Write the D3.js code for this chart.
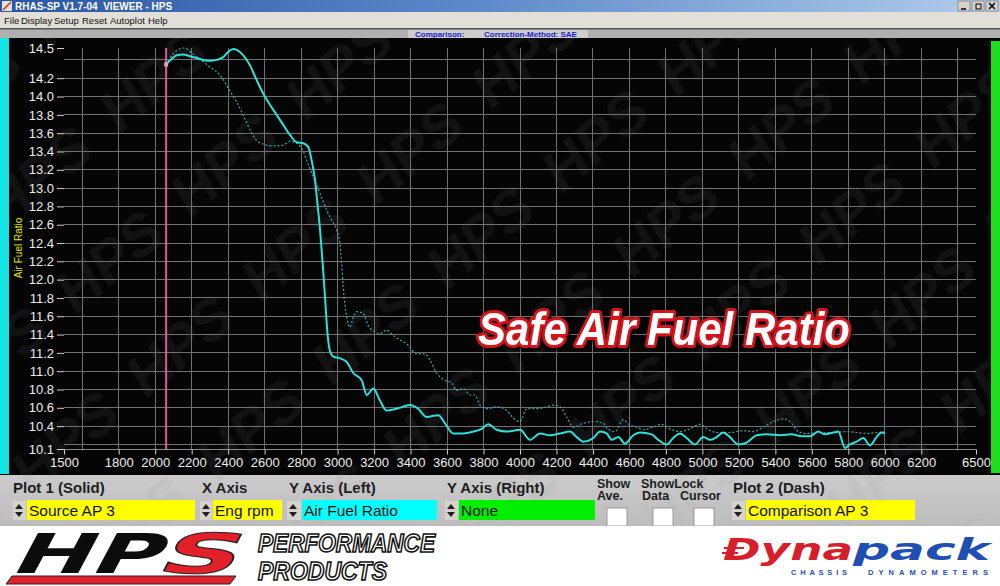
<!DOCTYPE html>
<html><head><meta charset="utf-8">
<script src="https://cdn.jsdelivr.net/npm/d3@7"></script>
<style>
body{margin:0;background:#fff;overflow:hidden}
svg{display:block;font-family:Arial,"Liberation Sans",sans-serif}
</style></head><body>
<svg id="c" width="1000" height="586"></svg>
<script>
// ---------------- data ----------------
const solidRpm = [2059,2090,2118,2154,2191,2228,2264,2300,2337,2373,2401,2428,2447,2483,2520,2556,2593,2629,2666,2702,2739,2776,2812,2839,2858,2876,2889,2904,2918,2931,2943,2958,2976,3013,3050,3086,3132,3160,3196,3232,3269,3324,3397,3442,3488,3552,3589,3634,3689,3744,3790,3826,3872,3927,4000,4055,4110,4164,4219,4274,4311,4347,4402,4439,4475,4503,4539,4576,4621,4658,4722,4758,4804,4840,4877,4914,4959,5005,5042,5078,5115,5151,5197,5243,5298,5352,5425,5489,5544,5590,5635,5672,5718,5745,5782,5809,5846,5882,5919,5955,5982,6001];
const solidAfr = [14.35,14.41,14.45,14.46,14.44,14.42,14.40,14.39,14.40,14.43,14.49,14.52,14.51,14.45,14.34,14.18,14.03,13.91,13.80,13.69,13.58,13.50,13.49,13.45,13.30,13.09,12.84,12.54,12.18,11.81,11.45,11.22,11.16,11.14,11.10,10.98,10.90,10.74,10.81,10.68,10.57,10.59,10.63,10.59,10.50,10.52,10.43,10.32,10.32,10.34,10.37,10.42,10.36,10.34,10.36,10.25,10.32,10.30,10.32,10.34,10.28,10.23,10.27,10.34,10.32,10.25,10.28,10.21,10.30,10.33,10.31,10.25,10.20,10.27,10.32,10.27,10.20,10.28,10.25,10.28,10.33,10.28,10.20,10.22,10.30,10.31,10.30,10.31,10.29,10.29,10.34,10.31,10.33,10.34,10.16,10.20,10.23,10.27,10.19,10.28,10.33,10.32];
const dashRpm = [2059,2099,2136,2163,2191,2228,2264,2300,2337,2365,2392,2419,2447,2474,2502,2529,2556,2593,2648,2702,2739,2776,2812,2835,2867,2904,2940,2968,2995,3013,3022,3031,3050,3068,3086,3105,3141,3168,3205,3232,3269,3305,3342,3379,3434,3479,3507,3543,3589,3626,3653,3689,3726,3753,3781,3817,3872,3927,3973,4000,4037,4091,4146,4182,4219,4256,4292,4347,4402,4457,4480,4521,4566,4603,4640,4676,4731,4777,4822,4877,4932,4987,5032,5078,5151,5224,5279,5334,5389,5453,5489,5526,5571,5645,5718,5791,5846,5900,5955,6001];
const dashAfr = [14.35,14.47,14.52,14.53,14.49,14.43,14.38,14.32,14.27,14.21,14.12,14.03,13.94,13.83,13.71,13.60,13.52,13.48,13.46,13.47,13.51,13.49,13.40,13.28,13.12,12.94,12.76,12.65,12.54,12.39,12.18,11.92,11.59,11.48,11.59,11.65,11.63,11.50,11.43,11.41,11.45,11.39,11.34,11.30,11.19,11.19,11.12,10.98,10.90,10.87,10.79,10.81,10.74,10.74,10.63,10.59,10.61,10.57,10.47,10.45,10.59,10.59,10.61,10.63,10.61,10.50,10.39,10.43,10.45,10.43,10.37,10.34,10.47,10.41,10.39,10.36,10.39,10.42,10.37,10.34,10.37,10.42,10.36,10.33,10.33,10.35,10.34,10.39,10.45,10.48,10.43,10.34,10.32,10.33,10.33,10.34,10.33,10.32,10.33,10.34];
const cursorRpm = 2060;
const xTickValues = [1500,1800,2000,2200,2400,2600,2800,3000,3200,3400,3600,3800,4000,4200,4400,4600,4800,5000,5200,5400,5600,5800,6000,6200,6500];
const xGridValues = [1600,1800,2000,2200,2400,2600,2800,3000,3200,3400,3600,3800,4000,4200,4400,4600,4800,5000,5200,5400,5600,5800,6000,6200,6400];
const yTickValues = [10.15,10.4,10.6,10.8,11.0,11.2,11.4,11.6,11.8,12.0,12.2,12.4,12.6,12.8,13.0,13.2,13.4,13.6,13.8,14.0,14.2,14.53];
const yTickLabels = ["10.1","10.4","10.6","10.8","11.0","11.2","11.4","11.6","11.8","12.0","12.2","12.4","12.6","12.8","13.0","13.2","13.4","13.6","13.8","14.0","14.2","14.5"];
const yGridValues = [10.2,10.4,10.6,10.8,11.0,11.2,11.4,11.6,11.8,12.0,12.2,12.4,12.6,12.8,13.0,13.2,13.4,13.6,13.8,14.0,14.2,14.4];
const menuItems = ["File","Display","Setup","Reset","Autoplot","Help"];
const yAxisTitle = "Air Fuel Ratio";
const annotation = "Safe Air Fuel Ratio";

// ---------------- drawing ----------------
const svg = d3.select("#c");
const defs = svg.append("defs");
const tg = defs.append("linearGradient").attr("id","tg").attr("x1",0).attr("x2",1);
tg.append("stop").attr("offset",0).attr("stop-color","#2a55a4");
tg.append("stop").attr("offset",0.45).attr("stop-color","#5a86c8");
tg.append("stop").attr("offset",1).attr("stop-color","#b2cdeb");
const pg = defs.append("linearGradient").attr("id","pg").attr("x1",0).attr("x2",0).attr("y1",0).attr("y2",1);
pg.append("stop").attr("offset",0).attr("stop-color","#cbcbcb");
pg.append("stop").attr("offset",1).attr("stop-color","#bdbdbd");
const wm = defs.append("pattern").attr("id","wm").attr("patternUnits","userSpaceOnUse")
  .attr("width",150).attr("height",110).attr("patternTransform","rotate(-40)");
wm.append("text").attr("x",6).attr("y",70).text("HPS").attr("font-size",58)
  .attr("font-weight","bold").attr("font-style","italic").attr("fill","#121212");
const wm2 = defs.append("pattern").attr("id","wm2").attr("patternUnits","userSpaceOnUse")
  .attr("width",150).attr("height",110).attr("patternTransform","rotate(-40)");
wm2.append("text").attr("x",6).attr("y",70).text("HPS").attr("font-size",58)
  .attr("font-weight","bold").attr("font-style","italic").attr("fill","#b8b8b8");
const sh = defs.append("filter").attr("id","sh").attr("x","-10%").attr("y","-30%").attr("width","120%").attr("height","160%");
sh.append("feDropShadow").attr("dx",2).attr("dy",2).attr("stdDeviation",1.5).attr("flood-color","#000").attr("flood-opacity",0.9);

// title bar
svg.append("rect").attr("x",0).attr("y",0).attr("width",1000).attr("height",12).attr("fill","url(#tg)");
svg.append("rect").attr("x",2).attr("y",1).attr("width",10).attr("height",10).attr("fill","#e8e0d0");
svg.append("path").attr("d","M3,10 L11,2").attr("stroke","#c03020").attr("stroke-width",1.5);
svg.append("text").attr("x",15).attr("y",10).attr("font-size",10).attr("font-weight","bold")
  .attr("fill","#fff").text("RHAS-SP V1.7-04  VIEWER - HPS").attr("xml:space","preserve");
[958,972,986].forEach(bx=>{
  svg.append("rect").attr("x",bx).attr("y",1).attr("width",12).attr("height",10)
    .attr("fill","#d8d4cc").attr("stroke","#666").attr("stroke-width",0.6);
});
svg.append("path").attr("d","M961,9 h5").attr("stroke","#000").attr("stroke-width",1.5);
svg.append("rect").attr("x",976).attr("y",4).attr("width",5).attr("height",5).attr("fill","none").attr("stroke","#000").attr("stroke-width",1);
svg.append("path").attr("d","M989,3 l6,6 M995,3 l-6,6").attr("stroke","#000").attr("stroke-width",1.6);

// menu bar
svg.append("rect").attr("x",0).attr("y",12).attr("width",1000).attr("height",16).attr("fill","#e2dfd8");
const menuX = [4,21,54,82,110,148];
svg.selectAll("text.menu").data(menuItems).join("text").attr("class","menu")
  .attr("x",(d,i)=>menuX[i]).attr("y",24).attr("font-size",9.5).attr("fill","#111").text(d=>d);

// status row
svg.append("rect").attr("x",0).attr("y",28).attr("width",1000).attr("height",10).attr("fill","#b0b0b0");
svg.append("rect").attr("x",0).attr("y",28).attr("width",1000).attr("height",1.5).attr("fill","#555");
svg.append("rect").attr("x",408).attr("y",30).attr("width",180).attr("height",8).attr("fill","#cdcdcd");
svg.append("text").attr("x",415).attr("y",37).attr("font-size",8).attr("font-weight","bold").attr("fill","#1a22d0").text("Comparison:");
svg.append("text").attr("x",484).attr("y",37).attr("font-size",8).attr("font-weight","bold").attr("fill","#1a22d0").text("Correction-Method: SAE");

// plot background
svg.append("rect").attr("x",0).attr("y",38).attr("width",1000).attr("height",437).attr("fill","#050505");
svg.append("rect").attr("x",9).attr("y",38).attr("width",982).attr("height",437).attr("fill","url(#wm)");
svg.append("rect").attr("x",0).attr("y",38).attr("width",9).attr("height",436).attr("fill","#16e4e4");
svg.append("rect").attr("x",991).attr("y",41).attr("width",9).attr("height",432).attr("fill","#1ce01c");

const x = d3.scaleLinear().domain([1500,6500]).range([64,976]);
const y = d3.scaleLinear().domain([10.15,14.53]).range([449,48]);

// grid
const grid = svg.append("g").attr("stroke","#707070").attr("stroke-width",1).attr("shape-rendering","crispEdges");
grid.selectAll("line.h").data(yGridValues).join("line").attr("class","h")
  .attr("x1",x(1500)).attr("x2",x(6500)).attr("y1",d=>y(d)).attr("y2",d=>y(d));
grid.selectAll("line.v").data(xGridValues).join("line").attr("class","v")
  .attr("x1",d=>x(d)).attr("x2",d=>x(d)).attr("y1",y(14.53)).attr("y2",y(10.15));

// axes
const ya = svg.append("g").attr("transform","translate(64,0)")
  .call(d3.axisLeft(y).tickValues(yTickValues).tickFormat((d,i)=>yTickLabels[i]).tickSize(7).tickPadding(3));
ya.select(".domain").remove();
ya.selectAll("line").attr("stroke","#cfcfcf");
ya.selectAll("text").attr("fill","#ececec").attr("font-size",13).attr("font-family","Arial, 'Liberation Sans', sans-serif");
const xa = svg.append("g").attr("transform","translate(0,449.5)")
  .call(d3.axisBottom(x).tickValues(xTickValues).tickFormat(d3.format("d")).tickSize(5).tickPadding(3));
xa.select(".domain").attr("stroke","#8a8a8a").attr("d",`M${x(1500)},0H${x(6500)}`);
xa.selectAll("line").attr("stroke","#cfcfcf");
xa.selectAll("text").attr("fill","#ececec").attr("font-size",13).attr("font-family","Arial, 'Liberation Sans', sans-serif");

svg.append("text").attr("transform","translate(22,248) rotate(-90)").attr("text-anchor","middle")
  .attr("font-size",10).attr("fill","#e6e600").text(yAxisTitle);

// cursor
svg.append("line").attr("x1",x(cursorRpm)).attr("x2",x(cursorRpm)).attr("y1",y(14.53)).attr("y2",y(10.15))
  .attr("stroke","#e0589c").attr("stroke-width",2);

// lines
const dashData = dashRpm.map((r,i)=>[r,dashAfr[i]]);
const solidData = solidRpm.map((r,i)=>[r,solidAfr[i]]);
const line = d3.line().x(d=>x(d[0])).y(d=>y(d[1])).curve(d3.curveMonotoneX);
svg.append("path").attr("d",line(dashData)).attr("fill","none").attr("stroke","#3aa9a6")
  .attr("stroke-width",1.2).attr("stroke-dasharray","2,2");
svg.append("path").attr("d",line(solidData)).attr("fill","none").attr("stroke","#2ee0da")
  .attr("stroke-width",2).attr("stroke-linejoin","round");
svg.append("rect").attr("x",x(cursorRpm)-2).attr("y",y(solidAfr[0])-2).attr("width",4).attr("height",4).attr("fill","#e8a0b8");

// annotation
svg.append("text").attr("x",478).attr("y",345).attr("textLength",372).attr("lengthAdjust","spacingAndGlyphs")
  .attr("font-family","'Liberation Sans', Arial, sans-serif").attr("font-weight","bold").attr("font-style","italic").attr("font-size",46)
  .attr("fill","#fff").attr("stroke","#d0121c").attr("stroke-width",6).attr("stroke-linejoin","round")
  .attr("paint-order","stroke").attr("filter","url(#sh)").text(annotation);

// control panel
svg.append("rect").attr("x",0).attr("y",475).attr("width",1000).attr("height",51).attr("fill","url(#pg)");
svg.append("rect").attr("x",0).attr("y",475).attr("width",1000).attr("height",51).attr("fill","url(#wm2)").attr("opacity",0.35);
const lbl = [["Plot 1 (Solid)",13],["X Axis",202],["Y Axis (Left)",289],["Y Axis (Right)",447],["Plot 2 (Dash)",733]];
svg.selectAll("text.lbl").data(lbl).join("text").attr("class","lbl").attr("x",d=>d[1]).attr("y",493)
  .attr("font-size",15).attr("font-weight","bold").attr("fill","#1e1e1e").text(d=>d[0]);
const small = [["Show",597,488],["Ave.",597,500],["ShowLock",641,488],["Data",642,500],["Cursor",680,500]];
svg.selectAll("text.sm").data(small).join("text").attr("class","sm").attr("x",d=>d[1]).attr("y",d=>d[2])
  .attr("font-size",12.5).attr("font-weight","bold").attr("fill","#1e1e1e").text(d=>d[0]);
const boxes = [["Source AP 3",13,27,168,"#ffff00"],["Eng rpm",200,213,69,"#ffff00"],["Air Fuel Ratio",287,302,135,"#00ffff"],["None",445,459,136,"#00ee00"],["Comparison AP 3",732,746,169,"#ffff00"]];
boxes.forEach((b,i)=>{
  const g = svg.append("g");
  g.append("rect").attr("x",b[1]).attr("y",501).attr("width",b[2]-b[1]-1).attr("height",19).attr("fill","#d6d3cc");
  g.append("path").attr("d",`M${b[1]+2},509 l4,-5 l4,5 z M${b[1]+2},512 l4,5 l4,-5 z`).attr("fill","#222");
  defs.append("clipPath").attr("id","cb"+i).append("rect").attr("x",b[2]).attr("y",500).attr("width",b[3]).attr("height",20);
  g.append("rect").attr("x",b[2]).attr("y",500).attr("width",b[3]).attr("height",20).attr("fill",b[4]);
  g.append("text").attr("x",b[2]+2).attr("y",516).attr("font-size",15.5).attr("fill","#111")
    .attr("clip-path",`url(#cb${i})`).text(b[0]);
});
[607,653,694].forEach(cx=>{
  svg.append("rect").attr("x",cx).attr("y",508).attr("width",20).attr("height",18).attr("fill","#fff").attr("stroke","#888").attr("stroke-width",0.8);
});

// bottom logos
svg.append("rect").attr("x",0).attr("y",526).attr("width",1000).attr("height",60).attr("fill","#fff");
const hps = svg.append("g").attr("font-family","'DejaVu Sans', sans-serif").attr("font-weight","bold");
hps.append("text").attr("transform","translate(8,573) skewX(-28)").attr("font-size",55)
  .attr("textLength",148).attr("lengthAdjust","spacingAndGlyphs").attr("fill","#0c0c0c").text("HP");
hps.append("text").attr("transform","translate(154,573) skewX(-28)").attr("font-size",55)
  .attr("textLength",80).attr("lengthAdjust","spacingAndGlyphs").attr("fill","#e3202a").attr("stroke","#222").attr("stroke-width",1).text("S");
hps.append("path").attr("d","M12,576 L236,576 L230,584 L6,584 Z").attr("fill","#e3202a").attr("stroke","#222").attr("stroke-width",1);
const perf = svg.append("g").attr("font-family","'Liberation Sans', Arial, sans-serif").attr("font-weight","bold").attr("font-style","italic")
  .attr("fill","#fff").attr("stroke","#111").attr("stroke-width",1.6);
perf.append("text").attr("x",258).attr("y",552).attr("font-size",25).attr("textLength",177).attr("lengthAdjust","spacingAndGlyphs").text("PERFORMANCE");
perf.append("text").attr("x",258).attr("y",580).attr("font-size",25).attr("textLength",129).attr("lengthAdjust","spacingAndGlyphs").text("PRODUCTS");

const dyn = svg.append("g").attr("font-family","'DejaVu Sans', sans-serif").attr("font-weight","bold").attr("font-style","italic");
dyn.append("path").attr("d","M724,548 h20 M722,553 h16").attr("stroke","#d81e2a").attr("stroke-width",2);
dyn.append("text").attr("x",723).attr("y",560).attr("font-size",30).attr("textLength",130).attr("lengthAdjust","spacingAndGlyphs")
  .attr("fill","#d81e2a").text("Dyna");
dyn.append("text").attr("x",853).attr("y",560).attr("font-size",30).attr("textLength",137).attr("lengthAdjust","spacingAndGlyphs")
  .attr("fill","#1f4fb2").text("pack");
svg.append("text").attr("x",791).attr("y",575).attr("font-size",7.5).attr("font-weight","bold").attr("fill","#1f4fb2")
  .attr("textLength",56).attr("lengthAdjust","spacing").text("CHASSIS");
svg.append("text").attr("x",868).attr("y",575).attr("font-size",7.5).attr("font-weight","bold").attr("fill","#1f4fb2")
  .attr("textLength",120).attr("lengthAdjust","spacing").text("DYNAMOMETERS");
</script>
</body></html>
